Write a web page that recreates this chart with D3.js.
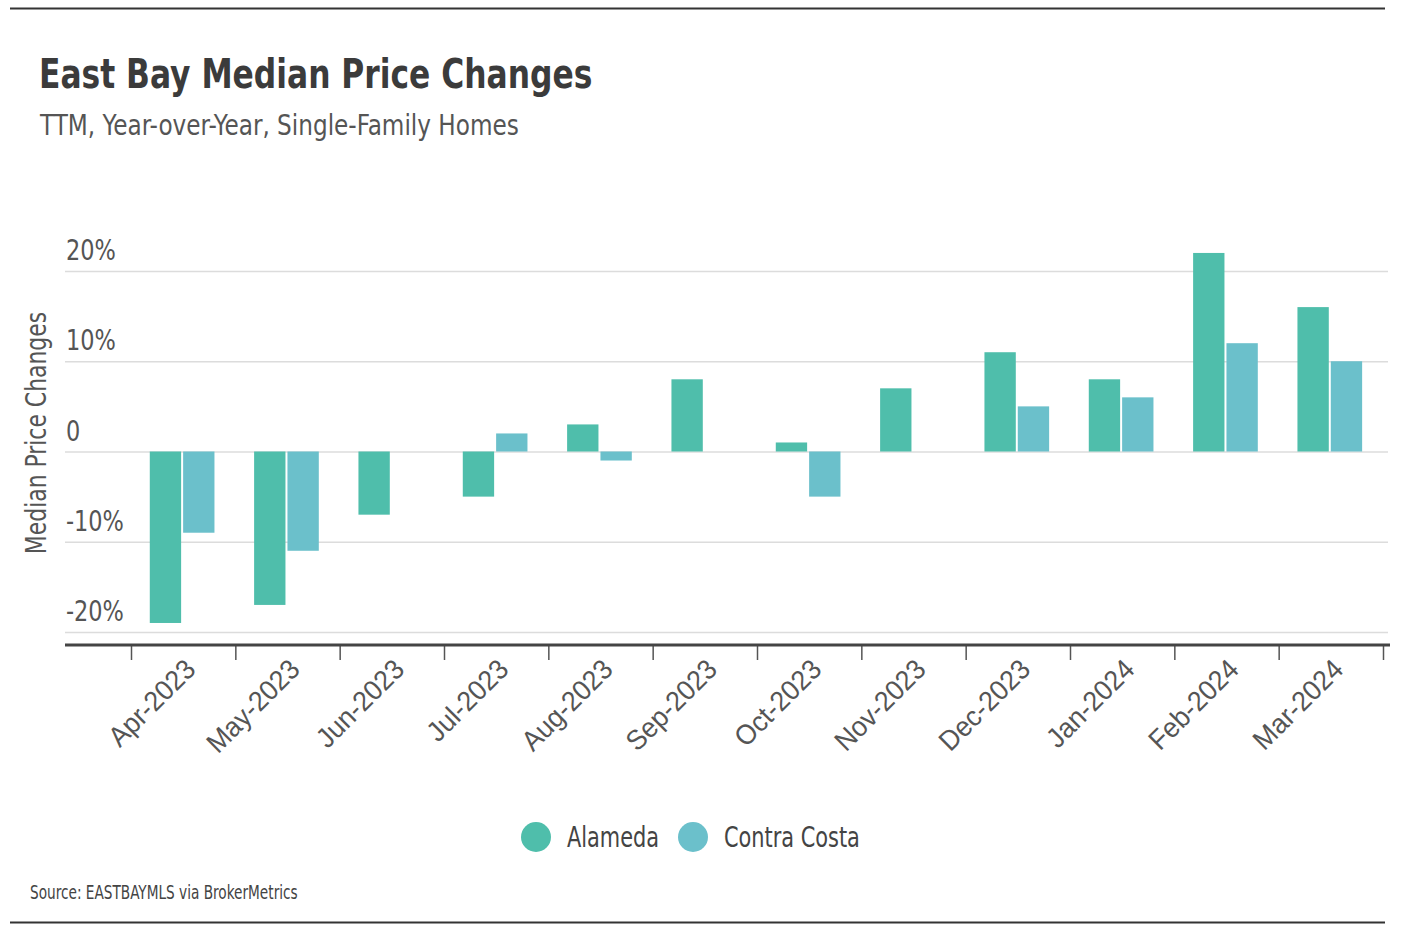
<!DOCTYPE html>
<html lang="en">
<head>
<meta charset="utf-8">
<title>East Bay Median Price Changes</title>
<script src="https://cdn.jsdelivr.net/npm/d3@7"></script>
<style>
  body { margin: 0; padding: 0; background: #fff; }
  svg { display: block; font-family: "Liberation Sans Narrow", "DejaVu Sans Condensed", "DejaVu Sans", sans-serif; font-stretch: condensed; }
</style>
</head>
<body>
<div id="root"></div>
<script>
  var months = ["Apr-2023", "May-2023", "Jun-2023", "Jul-2023", "Aug-2023", "Sep-2023",
                "Oct-2023", "Nov-2023", "Dec-2023", "Jan-2024", "Feb-2024", "Mar-2024"];
  var seriesNames = ["Alameda", "Contra Costa"];
  var alameda = [-19, -17, -7, -5, 3, 8, 1, 7, 11, 8, 22, 16];
  var contraCosta = [-9, -11, null, 2, -1, null, -5, null, 5, 6, 12, 10];
  var yTicks = [-20, -10, 0, 10, 20];
  var colors = ["#4fbeab", "#6bc0cb"];

  var W = 1406, H = 940;
  var svg = d3.select("#root").append("svg")
    .attr("width", W)
    .attr("height", H);

  // the original uses a narrow face; squeeze the condensed fallback sideways
  function place(x, y, sx) {
    return "translate(" + x + "," + y + ") scale(" + sx + ",1)";
  }

  // frame rules
  svg.append("line").attr("x1", 10).attr("x2", 1385).attr("y1", 8.5).attr("y2", 8.5)
    .attr("stroke", "#333").attr("stroke-width", 2);
  svg.append("line").attr("x1", 10).attr("x2", 1385).attr("y1", 922.5).attr("y2", 922.5)
    .attr("stroke", "#333").attr("stroke-width", 2);

  svg.append("text")
    .attr("transform", place(39, 88, 0.85))
    .style("font-size", "41px").style("font-weight", "bold").attr("fill", "#3b3b3b")
    .text("East Bay Median Price Changes");

  svg.append("text")
    .attr("transform", place(40, 135, 0.92))
    .style("font-size", "28px").attr("fill", "#555")
    .text("TTM, Year-over-Year, Single-Family Homes");

  var x = d3.scaleBand().domain(months).range([131, 1383]).padding(0);
  var x1 = d3.scaleBand().domain(seriesNames)
    .range([x.bandwidth() * 0.18, x.bandwidth() * 0.8]).paddingInner(0.06);
  var y = d3.scaleLinear().domain([-20, 20]).range([632, 271]);

  // gridlines
  svg.append("g").selectAll("line").data(yTicks).enter().append("line")
    .attr("x1", 65).attr("x2", 1388)
    .attr("y1", function(d) { return y(d) + 0.5; })
    .attr("y2", function(d) { return y(d) + 0.5; })
    .attr("stroke", "#dcdcdc").attr("stroke-width", 1.5);

  // y tick labels sit above their gridlines
  svg.append("g").selectAll("text").data(yTicks).enter().append("text")
    .attr("transform", function(d) { return place(66, y(d) - 11, 0.86); })
    .style("font-size", "29px").attr("fill", "#555")
    .text(function(d) { return d === 0 ? "0" : d + "%"; });

  svg.append("text")
    .attr("transform", "translate(46,433) rotate(-90) scale(0.87,1)")
    .attr("text-anchor", "middle")
    .style("font-size", "28px").attr("fill", "#555")
    .text("Median Price Changes");

  // bars
  var rows = months.map(function(m, i) {
    return { month: m, vals: [alameda[i], contraCosta[i]] };
  });
  var groups = svg.append("g").selectAll("g").data(rows).enter().append("g")
    .attr("transform", function(d) { return "translate(" + x(d.month) + ",0)"; });
  groups.selectAll("rect")
    .data(function(d) {
      return d.vals.map(function(v, j) { return { name: seriesNames[j], v: v, j: j }; })
        .filter(function(e) { return e.v !== null; });
    })
    .enter().append("rect")
      .attr("x", function(d) { return x1(d.name); })
      .attr("width", x1.bandwidth())
      .attr("y", function(d) { return Math.min(y(d.v), y(0)); })
      .attr("height", function(d) { return Math.abs(y(d.v) - y(0)); })
      .attr("fill", function(d) { return colors[d.j]; });

  // x axis: ticks at band edges, heavy base line
  var edge = d3.scaleLinear().domain([0, months.length]).range([131, 1383]);
  var xAxis = svg.append("g").attr("transform", "translate(0,645)")
    .call(d3.axisBottom(edge).tickValues(d3.range(months.length + 1)).tickSize(15).tickFormat(""));
  xAxis.select(".domain").remove();
  xAxis.selectAll(".tick line").attr("stroke", "#555").attr("stroke-width", 1.5);
  svg.append("line").attr("x1", 65).attr("x2", 1390).attr("y1", 645).attr("y2", 645)
    .attr("stroke", "#444").attr("stroke-width", 3);

  var labels = svg.append("g").attr("transform", "translate(0,645)")
    .call(d3.axisBottom(x).tickSize(0).tickPadding(0));
  labels.select(".domain").remove();
  labels.selectAll("text")
    .attr("text-anchor", "end")
    .attr("dy", 0)
    .attr("transform", "translate(14,26) rotate(-45) scale(0.95,1)")
    .style("font-size", "28px")
    .style("font-family", "inherit")
    .attr("fill", "#555");

  // legend
  var legendX = [536, 693];
  var leg = svg.append("g").selectAll("g").data(seriesNames).enter().append("g")
    .attr("transform", function(d, i) { return "translate(" + legendX[i] + ",837)"; });
  leg.append("circle").attr("r", 15).attr("fill", function(d, i) { return colors[i]; });
  leg.append("text").attr("transform", place(31, 10, 0.8))
    .style("font-size", "29px").attr("fill", "#444")
    .text(function(d) { return d; });

  svg.append("text")
    .attr("transform", place(30, 899, 0.8))
    .style("font-size", "19px").attr("fill", "#444")
    .text("Source:  EASTBAYMLS via BrokerMetrics");
</script>
</body>
</html>
